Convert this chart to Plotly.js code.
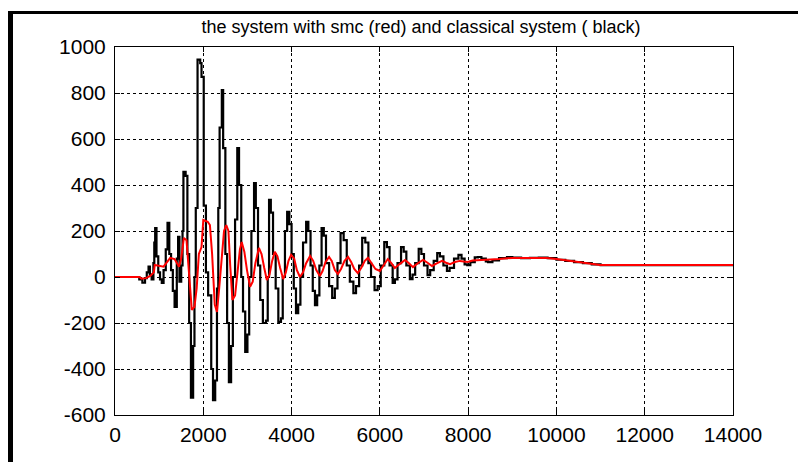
<!DOCTYPE html>
<html>
<head>
<meta charset="utf-8">
<script src="https://cdn.plot.ly/plotly-3.0.1.min.js"></script>
<style>
html,body{margin:0;padding:0;background:#fff;}
#chart{width:798px;height:462px;}
</style>
</head>
<body>
<div id="chart"></div>
<script>
// Classical system (black)
var blackX = [0,500,550,620,680,720,760,790,830,870,890,910,940,980,1020,1060,1100,1150,1190,1230,1270,1310,1350,1400,1430,1460,1500,1530,1550,1600,1640,1680,1720,1770,1800,1830,1870,1930,1960,2010,2060,2110,2180,2220,2270,2310,2340,2370,2420,2450,2500,2540,2580,2630,2670,2720,2770,2810,2860,2900,2950,3000,3040,3090,3150,3190,3240,3290,3350,3420,3460,3490,3530,3580,3640,3700,3760,3800,3850,3900,3950,4000,4050,4100,4150,4200,4260,4330,4380,4430,4480,4530,4580,4630,4680,4730,4780,4850,4920,4980,5040,5110,5180,5250,5320,5400,5460,5530,5600,5670,5740,5800,5880,5950,6020,6100,6160,6220,6290,6340,6400,6480,6540,6600,6680,6740,6800,6880,6940,7000,7080,7140,7220,7300,7360,7440,7520,7580,7680,7780,7850,7920,7980,8050,8150,8220,8300,8400,8450,8550,8700,8880,9000,9200,9400,9600,9800,10000,10200,10400,10600,10800,11000,14000];
var blackY = [0,0,-10,-25,-5,20,45,10,-10,60,150,213,90,20,-10,-26,30,120,235,100,30,-60,-130,80,175,-20,50,200,457,440,100,-200,-525,-300,0,300,945,930,870,310,20,-80,-400,-535,-450,-50,300,650,813,560,100,-200,-457,-300,0,250,560,400,0,-150,-326,-250,0,200,408,300,50,-100,-200,-190,0,335,280,100,-50,-195,-180,0,200,283,230,100,-50,-157,-120,0,150,240,200,50,-60,-122,-80,50,213,180,60,-40,-91,-50,60,191,160,50,-20,-70,-40,50,170,150,60,0,-57,-40,50,152,130,50,-26,-10,60,130,110,50,-9,10,60,122,100,50,8,30,70,104,90,50,26,40,80,96,80,55,52,65,85,87,80,68,65,72,82,87,84,82,83,84,82,75,70,65,60,55,52,52];

// System with SMC (red)
var redX = [0,550,600,700,800,880,900,1000,1100,1200,1250,1350,1400,1450,1500,1560,1620,1680,1740,1800,1850,1900,1960,2000,2100,2150,2200,2260,2310,2360,2420,2470,2520,2570,2610,2660,2720,2770,2830,2870,2930,2990,3060,3120,3180,3260,3320,3380,3440,3500,3560,3620,3680,3740,3810,3870,3930,3990,4060,4120,4190,4260,4330,4420,4490,4560,4640,4700,4770,4850,4910,4980,5050,5120,5200,5280,5350,5420,5500,5580,5660,5730,5800,5900,6000,6080,6180,6260,6340,6440,6570,6660,6750,6860,6980,7080,7180,7300,7410,7500,7590,7700,7810,7900,7990,8100,8400,8700,9000,9400,9780,10000,10300,10600,10990,14000];
var redY = [0,0,-7,-5,5,20,52,48,45,70,83,78,60,45,80,170,160,20,-143,-130,-50,100,130,248,240,226,100,-120,-152,-50,100,200,226,200,50,-100,-80,20,120,152,110,30,-43,-20,60,126,100,40,-13,10,70,110,90,40,-9,20,70,96,80,30,0,20,60,91,70,30,4,25,65,87,70,30,13,35,70,87,65,35,17,40,70,83,65,35,26,50,78,60,39,55,74,60,43,60,74,62,48,60,70,62,56,65,70,67,65,72,74,78,83,84,83,78,70,62,52,52];

var xTicks = [0,2000,4000,6000,8000,10000,12000,14000];
var yTicks = [-600,-400,-200,0,200,400,600,800,1000];
var titleText = "the system with smc (red) and classical system ( black)";

var pxL = 115, pxR = 733, pxT = 47, pxB = 415;
var W = 798, H = 462;
function px2x(p){return (p-pxL)/(pxR-pxL);}
function py2y(p){return (pxB-p)/(pxB-pxT);}

var traces = [
  {x: blackX, y: blackY, type:'scatter', mode:'lines', line:{color:'#000000', width:2.2, shape:'hv'}, hoverinfo:'skip'},
  {x: redX, y: redY, type:'scatter', mode:'lines', line:{color:'#ff0000', width:2}, hoverinfo:'skip'}
];

var axisCommon = {
  showgrid:true, gridcolor:'#000000', griddash:'3px,3px', gridwidth:1,
  zeroline:false, showline:true, linecolor:'#000000', linewidth:1, mirror:'ticks',
  ticks:'inside', ticklen:5, tickcolor:'#000000', tickwidth:1,
  tickfont:{family:'Liberation Sans, Arial, sans-serif', size:21, color:'#000000'}
};

var layout = {
  width: W, height: H,
  margin:{l:pxL, r:W-pxR, t:pxT, b:H-pxB, pad:0},
  paper_bgcolor:'#ffffff', plot_bgcolor:'#ffffff',
  showlegend:false,
  title:{text:titleText, font:{family:'Liberation Sans, Arial, sans-serif', size:18, color:'#000000'},
         x:(421)/W, xref:'container', xanchor:'center', y:1-27/H, yref:'container', yanchor:'middle'},
  xaxis: Object.assign({}, axisCommon, {range:[0,14000], tickvals:xTicks, ticktext:xTicks.map(String), ticklabelstandoff:1}),
  yaxis: Object.assign({}, axisCommon, {range:[-600,1000], tickvals:yTicks, ticktext:yTicks.map(String), ticklabelstandoff:4}),
  shapes:[
    {type:'rect', xref:'paper', yref:'paper', x0:px2x(8), x1:px2x(13), y0:py2y(H+5), y1:py2y(11), fillcolor:'#000000', line:{width:0}, layer:'above'},
    {type:'rect', xref:'paper', yref:'paper', x0:px2x(8), x1:px2x(W+5), y0:py2y(14), y1:py2y(11), fillcolor:'#000000', line:{width:0}, layer:'above'}
  ]
};

Plotly.newPlot('chart', traces, layout, {staticPlot:true, displayModeBar:false});
</script>
</body>
</html>
